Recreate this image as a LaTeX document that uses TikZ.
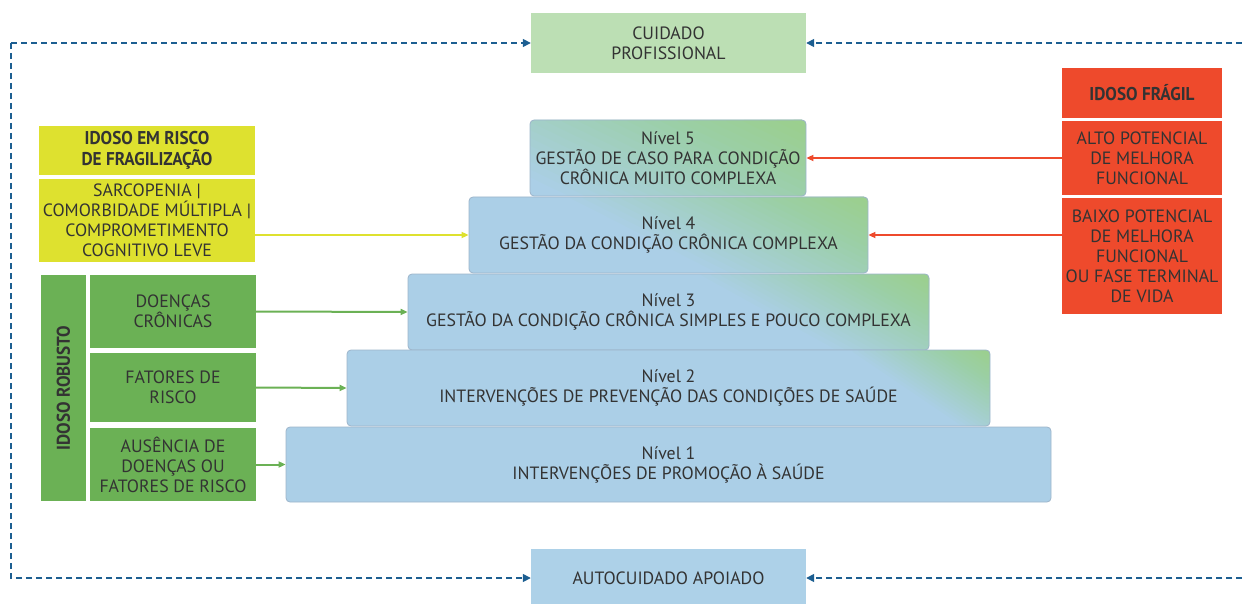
\documentclass[tikz,border=0pt]{standalone}
\usepackage{fontspec}
\setmainfont{PT Sans}[BoldFeatures={FakeStretch=0.93}]
\usetikzlibrary{arrows.meta}

\definecolor{cuidadogreen}{HTML}{BCDFB4}
\definecolor{autoblue}{HTML}{ADD1E8}
\definecolor{tierblue}{HTML}{ABCFE7}
\definecolor{tiergreen}{HTML}{9BD08E}
\definecolor{tierline}{HTML}{9DB4CA}
\definecolor{riscoyellow}{HTML}{DEE12F}
\definecolor{robustgreen}{HTML}{6BB155}
\definecolor{fragilred}{HTML}{EE4A2C}
\definecolor{flowblue}{HTML}{1C5E91}
\definecolor{textgray}{HTML}{333333}

\tikzset{
  sidebox/.style={inner sep=0pt, align=center, text=textgray, font=\fontsize{17.8}{20}\selectfont},
  headbox/.style={sidebox, font=\fontsize{18.5}{21}\selectfont\bfseries},
  tier/.style={sidebox, draw=tierline, line width=0.8pt, fill=tierblue, rounded corners=4pt, minimum height=76pt},
  % green coming in from the upper right corner, in 24 layers
  greenfade/.style 2 args={path picture={
      \foreach \k in {24,23,...,1} {
        \pgfmathsetmacro\fadeop{1/\k}
        \fill [tiergreen, fill opacity=\fadeop] (path picture bounding box.north east)
          -- +(-#1*\k/24,0) -- +(0,#2*\k/24) -- cycle;
      }}},
  dashflow/.style={flowblue, line width=1.5pt, dash pattern=on 6pt off 4pt, -{Triangle[length=8pt,width=8pt]}},
  feed/.style={line width=2pt, -{Triangle[length=7pt,width=6pt]}}
}

\begin{document}
\begin{tikzpicture}[x=1pt, y=-1pt]
	\useasboundingbox (0,0) rectangle (1242,604);
	
	% the two kinds of care
	\node [sidebox, fill=cuidadogreen, minimum width=275pt, minimum height=60pt] (cuidado) at (668.5,43) {CUIDADO\\PROFISSIONAL};
	\node [sidebox, fill=autoblue, minimum width=275pt, minimum height=58pt] (autocuidado) at (668.5,578) {AUTOCUIDADO APOIADO};
	
	% pyramid
	\node [tier, minimum width=276pt, greenfade={395}{190}] (n5) at (668,158) {Nível 5\\GESTÃO DE CASO PARA CONDIÇÃO\\CRÔNICA MUITO COMPLEXA};
	\node [tier, minimum width=399pt, greenfade={300}{152}] (n4) at (668.5,235) {Nível 4\\GESTÃO DA CONDIÇÃO CRÔNICA COMPLEXA};
	\node [tier, minimum width=521pt, greenfade={230}{127}] (n3) at (668.5,312) {Nível 3\\GESTÃO DA CONDIÇÃO CRÔNICA SIMPLES E POUCO COMPLEXA};
	\node [tier, minimum width=643pt, greenfade={140}{95}] (n2) at (668.5,388) {Nível 2\\INTERVENÇÕES DE PREVENÇÃO DAS CONDIÇÕES DE SAÚDE};
	\node [tier, minimum width=765pt, minimum height=75pt] (n1) at (668.5,464.5) {Nível 1\\INTERVENÇÕES DE PROMOÇÃO À SAÚDE};
	
	% idoso em risco
	\node [headbox, fill=riscoyellow, minimum width=216pt, minimum height=49pt] (risco) at (147,150.5) {IDOSO EM RISCO\\DE FRAGILIZAÇÃO};
	\node [sidebox, fill=riscoyellow, minimum width=216pt, minimum height=83pt] (sarco) at (147,220.5) {SARCOPENIA |\\COMORBIDADE MÚLTIPLA |\\COMPROMETIMENTO\\COGNITIVO LEVE};
	
	% idoso robusto
	\node [headbox, fill=robustgreen, rotate=90, minimum width=226pt, minimum height=45pt] (robusto) at (63.5,388) {IDOSO ROBUSTO};
	\node [sidebox, fill=robustgreen, minimum width=166pt, minimum height=73pt] (doencas) at (173,311.5) {DOENÇAS\\CRÔNICAS};
	\node [sidebox, fill=robustgreen, minimum width=166pt, minimum height=69pt] (fatores) at (173,387.5) {FATORES DE\\RISCO};
	\node [sidebox, fill=robustgreen, minimum width=166pt, minimum height=73pt] (ausencia) at (173,464.5) {AUSÊNCIA DE\\DOENÇAS OU\\FATORES DE RISCO};
	
	% idoso fragil
	\node [headbox, fill=fragilred, minimum width=160pt, minimum height=50pt] (fragil) at (1142,93) {IDOSO FRÁGIL};
	\node [sidebox, fill=fragilred, minimum width=160pt, minimum height=74pt] (alto) at (1142,158) {ALTO POTENCIAL\\DE MELHORA\\FUNCIONAL};
	\node [sidebox, fill=fragilred, minimum width=160pt, minimum height=116pt] (baixo) at (1142,256) {BAIXO POTENCIAL\\DE MELHORA\\FUNCIONAL\\OU FASE TERMINAL\\DE VIDA};
	
	% flow around
	\coordinate (tl) at (11,43);
	\coordinate (bl) at (11,578);
	\coordinate (tr) at (1242,43);
	\coordinate (br) at (1242,578);
	\draw [dashflow] (tl) -- (cuidado.west);
	\draw [dashflow] (tr) -- (cuidado.east);
	\draw [dashflow] (tl) -- (bl) -- (autocuidado.west);
	\draw [dashflow] (br) -- (autocuidado.east);
	
	% arrows into the levels
	\draw [feed, riscoyellow] (sarco.east |- n4.west) -- (n4.west);
	\draw [feed, robustgreen] (doencas.east) -- (n3.west);
	\draw [feed, robustgreen] (fatores.east) -- (n2.west);
	\draw [feed, robustgreen] (ausencia.east) -- (n1.west);
	\draw [feed, fragilred] (alto.west) -- (n5.east);
	\draw [feed, fragilred] (baixo.west |- n4.east) -- (n4.east);
	
\end{tikzpicture}
\end{document}
